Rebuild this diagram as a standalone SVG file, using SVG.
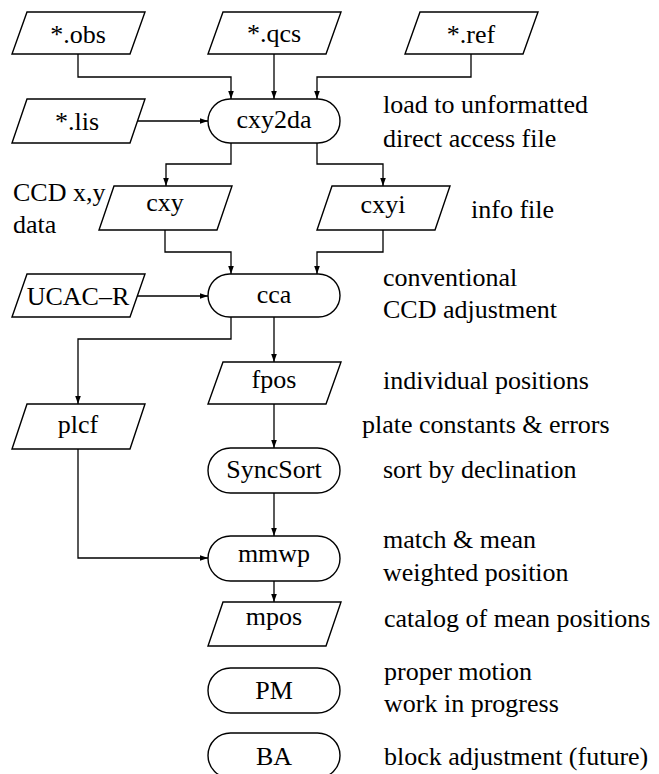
<svg xmlns="http://www.w3.org/2000/svg" width="659" height="774" viewBox="0 0 659 774">
<style>
text{font-family:'Liberation Serif','Times New Roman',serif;font-size:26px;fill:#000}
.c{text-anchor:middle}
.s{fill:#fff;stroke:#000;stroke-width:1.4}
.e{fill:none;stroke:#000;stroke-width:1.3;marker-end:url(#a)}
</style>
<defs>
<marker id="a" viewBox="0 0 8 8" refX="8" refY="4" markerWidth="8" markerHeight="8" markerUnits="userSpaceOnUse" orient="auto">
<path d="M0,1.2 L8,4 L0,6.8 Z" fill="#000"/>
</marker>
</defs>
<rect width="659" height="774" fill="#fff"/>
<g id="connectors">
<path class="e" d="M78,54 V77 H231 V99"/>
<path class="e" d="M274,54 V99"/>
<path class="e" d="M471,54 V77 H317 V99"/>
<path class="e" d="M137,121 H208"/>
<path class="e" d="M231,143 V164 H166 V186"/>
<path class="e" d="M317,143 V164 H383 V186"/>
<path class="e" d="M165,230 V252 H231 V274"/>
<path class="e" d="M383,230 V252 H317 V274"/>
<path class="e" d="M137,296 H208"/>
<path class="e" d="M231,317 V339 H78 V404"/>
<path class="e" d="M274,317 V362"/>
<path class="e" d="M274,404 V448"/>
<path class="e" d="M274,493 V536"/>
<path class="e" d="M78,449 V558 H208"/>
<path class="e" d="M274,581 V602"/>
</g>
<g id="obs"><polygon class="s" points="27,12 145,12 130,54 12,54"/><text class="c" x="78" y="43">*.obs</text></g>
<g id="qcs"><polygon class="s" points="223,12 341,12 326,54 208,54"/><text class="c" x="274" y="42">*.qcs</text></g>
<g id="ref"><polygon class="s" points="420,12 538,12 523,54 405,54"/><text class="c" x="471" y="43">*.ref</text></g>
<g id="lis"><polygon class="s" points="27,99 145,99 130,143 12,143"/><text class="c" x="77" y="130">*.lis</text></g>
<g id="cxy2da"><rect class="s" x="208" y="99" width="132" height="44" rx="22"/><text class="c" x="274" y="128">cxy2da</text></g>
<g id="cxy"><polygon class="s" points="114,186 232,186 217,230 99,230"/><text class="c" x="165" y="211">cxy</text></g>
<g id="cxyi"><polygon class="s" points="332,186 450,186 435,230 317,230"/><text class="c" x="383" y="213">cxyi</text></g>
<g id="ucacr"><polygon class="s" points="27,274 145,274 130,317 12,317"/><text class="c" x="78" y="305">UCAC&#8211;R</text></g>
<g id="cca"><rect class="s" x="208" y="274" width="132" height="43" rx="21.5"/><text class="c" x="274" y="303">cca</text></g>
<g id="fpos"><polygon class="s" points="223,362 341,362 326,404 208,404"/><text class="c" x="274" y="388">fpos</text></g>
<g id="plcf"><polygon class="s" points="27,404 145,404 130,449 12,449"/><text class="c" x="78" y="433">plcf</text></g>
<g id="syncsort"><rect class="s" x="208" y="448" width="132" height="45" rx="22.5"/><text class="c" x="274" y="478">SyncSort</text></g>
<g id="mmwp"><rect class="s" x="208" y="536" width="132" height="45" rx="22.5"/><text class="c" x="274" y="562">mmwp</text></g>
<g id="mpos"><polygon class="s" points="223,602 341,602 326,646 208,646"/><text class="c" x="274" y="625">mpos</text></g>
<g id="pm"><rect class="s" x="208" y="668" width="132" height="45" rx="22.5"/><text class="c" x="274" y="699">PM</text></g>
<g id="ba"><rect class="s" x="208" y="733" width="132" height="45" rx="22.5"/><text class="c" x="274" y="765">BA</text></g>
<g id="annotations">
<text x="383" y="113">load to unformatted</text>
<text x="383" y="147">direct access file</text>
<text x="13" y="201">CCD x,y</text>
<text x="13" y="233">data</text>
<text x="471" y="218">info file</text>
<text x="383" y="286">conventional</text>
<text x="383" y="318">CCD adjustment</text>
<text x="383" y="389">individual positions</text>
<text x="362" y="433">plate constants &amp; errors</text>
<text x="383" y="478">sort by declination</text>
<text x="383" y="548">match &amp; mean</text>
<text x="383" y="581">weighted position</text>
<text x="384" y="627">catalog of mean positions</text>
<text x="384" y="680">proper motion</text>
<text x="384" y="712">work in progress</text>
<text x="384" y="765">block adjustment (future)</text>
</g>
</svg>
